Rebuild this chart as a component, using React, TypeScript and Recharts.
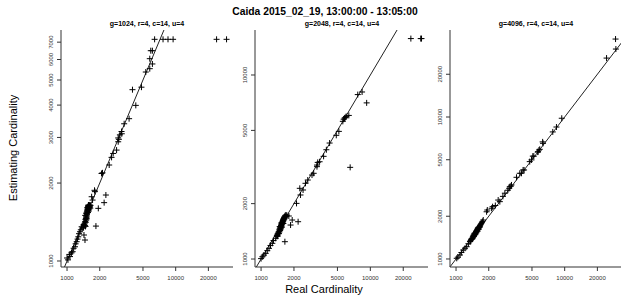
import React from 'react';
import { ScatterChart, Scatter, XAxis, YAxis, ReferenceLine } from 'recharts';

const chartTitle = 'Caida 2015_02_19, 13:00:00 - 13:05:00';
const panelTitles = ['g=1024, r=4, c=14, u=4', 'g=2048, r=4, c=14, u=4', 'g=4096, r=4, c=14, u=4'];
const xLabel = 'Real Cardinality';
const yLabel = 'Estimating Cardinality';

const xTicks = [1000, 2000, 5000, 10000, 20000];
const yTicks1 = [1000, 2000, 3000, 4000, 5000, 6000, 7000];
const yTicks2 = [1000, 2000, 5000, 10000];
const yTicks3 = [1000, 2000, 5000, 10000, 20000];

const xDomain: [number, number] = [880, 33700];
const yDomain1: [number, number] = [948, 7800];
const yDomain2: [number, number] = [905, 17560];
const yDomain3: [number, number] = [878, 41000];

// [real cardinality, estimated cardinality]
const panel1Points: [number, number][] = [
  [1000, 1027], [1020, 1010], [1050, 1060], [1065, 1040], [1100, 1075], [1127, 1086], [1150, 1120],
  [1184, 1135], [1200, 1165], [1227, 1187], [1250, 1215], [1270, 1240], [1290, 1275], [1316, 1297],
  [1340, 1320], [1363, 1356], [1380, 1340], [1412, 1377], [1432, 1260], [1463, 1205],
  [1440, 1385], [1455, 1400], [1462, 1372], [1470, 1420], [1478, 1445], [1485, 1410], [1490, 1460],
  [1495, 1480], [1500, 1438], [1505, 1502], [1510, 1470], [1515, 1525], [1518, 1490], [1522, 1545],
  [1526, 1510], [1530, 1560], [1534, 1532], [1538, 1575], [1542, 1550], [1546, 1590], [1550, 1565],
  [1553, 1605], [1557, 1580], [1560, 1620], [1564, 1598], [1568, 1635], [1572, 1612], [1576, 1645],
  [1580, 1625], [1585, 1640], [1590, 1600], [1595, 1630], [1600, 1585], [1606, 1640], [1612, 1610],
  [1620, 1645], [1628, 1620], [1636, 1600], [1645, 1640], [1470, 1500], [1520, 1455], [1560, 1540],
  [1590, 1560], [1540, 1610], [1500, 1530], [1480, 1360], [1420, 1345],
  [1718, 1719], [1685, 1771], [1806, 1853], [1790, 1875], [1845, 1364], [1940, 1597], [2195, 1680],
  [2278, 1798], [2078, 2178], [2120, 2190], [2444, 2348], [2570, 2513], [2659, 2602], [2858, 2681],
  [2958, 2887],
  [2958, 2987], [3000, 2950], [3065, 3070], [3175, 3163], [3190, 3100], [3356, 3388], [3726, 3545],
  [4003, 4588], [4295, 3990], [4843, 4691], [5307, 5368], [5775, 5530], [6106, 5767], [5775, 6044],
  [5900, 6489], [6106, 6489], [6400, 7180], [7650, 7180], [8500, 7180], [9470, 7180],
  [23800, 7180], [29400, 7180],
];

const panel2Points: [number, number][] = [
  [1000, 1005], [1028, 1029], [1060, 1050], [1103, 1074], [1140, 1110], [1182, 1143], [1220, 1185],
  [1268, 1217], [1300, 1260], [1360, 1296], [1390, 1330], [1420, 1350], [1458, 1379], [1652, 1242],
  [1400, 1340], [1410, 1365], [1420, 1330], [1430, 1380], [1440, 1400], [1450, 1372], [1460, 1415],
  [1468, 1440], [1475, 1405], [1482, 1460], [1490, 1430], [1497, 1480], [1504, 1455], [1510, 1500],
  [1516, 1470], [1522, 1520], [1528, 1490], [1534, 1540], [1540, 1512], [1546, 1560], [1552, 1535],
  [1558, 1580], [1564, 1555], [1570, 1600], [1576, 1572], [1582, 1620], [1588, 1595], [1594, 1640],
  [1600, 1612], [1608, 1660], [1616, 1632], [1624, 1680], [1632, 1650], [1640, 1700], [1650, 1670],
  [1660, 1720], [1672, 1690], [1685, 1735], [1700, 1705], [1720, 1730], [1500, 1440], [1550, 1490],
  [1600, 1560], [1480, 1500], [1530, 1570],
  [1796, 1713], [1862, 1530], [1927, 1629], [2183, 1595], [2111, 2006], [2294, 2228], [2261, 2422],
  [2423, 2372], [2550, 2579], [2675, 2687], [2925, 2860], [3030, 2923], [3248, 3176], [3248, 3240],
  [3433, 3378], [3300, 3350], [6537, 3149],
  [3735, 3614], [3957, 3925], [4240, 4268], [4878, 4701], [5152, 4939], [5600, 5600], [5805, 5830],
  [6013, 5956], [6355, 6030], [5700, 5750], [5900, 5880], [7674, 7826], [8403, 8085], [9253, 7054],
  [23490, 15770], [28900, 15770], [29400, 15770],
];

const panel3Points: [number, number][] = [
  [1015, 1011], [1040, 1030], [1088, 1067], [1120, 1110], [1167, 1157], [1210, 1190], [1254, 1220],
  [1300, 1280], [1344, 1324], [1390, 1380], [1442, 1436],
  [1350, 1330], [1365, 1350], [1380, 1372], [1395, 1385], [1410, 1400], [1425, 1425], [1440, 1430],
  [1455, 1460], [1468, 1470], [1480, 1490], [1492, 1500], [1505, 1520], [1516, 1530], [1528, 1550],
  [1540, 1560], [1552, 1580], [1564, 1590], [1576, 1610], [1588, 1620], [1600, 1640], [1612, 1650],
  [1625, 1670], [1638, 1680], [1650, 1700], [1665, 1715], [1680, 1740], [1695, 1760], [1710, 1780],
  [1730, 1810], [1750, 1840], [1460, 1440], [1500, 1480], [1540, 1530], [1580, 1570], [1620, 1620],
  [1660, 1680], [1445, 1470], [1485, 1520], [1525, 1570], [1565, 1620], [1605, 1670], [1420, 1390],
  [1470, 1500], [1510, 1500], [1590, 1650],
  [1780, 1881], [1940, 2212], [1912, 2150], [2125, 2277], [2170, 2335], [2300, 2380], [2443, 2600],
  [2530, 2534], [2700, 2760], [2815, 2906], [3000, 3050], [3086, 3145], [3126, 3230], [3238, 3322],
  [3200, 3260], [3602, 3761], [3862, 4014], [4000, 4014], [4142, 4235], [4230, 4235], [4770, 4850],
  [4950, 4986], [5090, 5300], [5200, 5300], [5690, 5696], [5650, 5660], [5895, 5920], [5800, 5850],
  [6321, 6525],
  [6270, 6680], [7770, 7850], [8400, 8500], [9400, 9800], [24300, 26000], [29600, 30100], [29400, 35400],
];

const FONT = '"Liberation Sans", Arial, sans-serif';

const PlusShape = (props: any) => {
  const { cx, cy } = props;
  if (cx == null || cy == null) return null;
  const s = 3;
  return (
    <path
      d={`M${cx - s},${cy}H${cx + s}M${cx},${cy - s}V${cy + s}`}
      stroke="#000"
      strokeWidth={1}
      fill="none"
    />
  );
};

const XTick = (props: any) => {
  const { x, y, payload } = props;
  return (
    <text x={x} y={y} dy="0.71em" textAnchor="middle" fontSize={6} fill="#333" fontFamily={FONT}>
      {payload.value}
    </text>
  );
};

const YTick = (props: any) => {
  const { x, y, payload } = props;
  return (
    <text
      x={x}
      y={y}
      transform={`rotate(-90 ${x} ${y})`}
      textAnchor="middle"
      fontSize={6}
      fill="#333"
      fontFamily={FONT}
    >
      {payload.value}
    </text>
  );
};

const boxLefts = [61, 255, 450];
const boxWidths = [172, 173, 172];
const AXIS_W = 50;

type PanelProps = {
  idx: number;
  points: [number, number][];
  yDomain: [number, number];
  yTicks: number[];
};

function Panel({ idx, points, yDomain, yTicks }: PanelProps) {
  const L = boxLefts[idx];
  const W = boxWidths[idx];
  const chartW = W + AXIS_W + 1;
  const data = points.map(([x, y]) => ({ x, y }));
  const lo = Math.max(xDomain[0], yDomain[0]);
  const hi = Math.min(xDomain[1], yDomain[1]);
  return (
    <div style={{ position: 'absolute', left: L - AXIS_W, top: 0 }}>
      <ScatterChart width={chartW} height={300} margin={{ top: 30, right: 1, bottom: 0, left: 0 }}>
        <XAxis
          xAxisId="b"
          dataKey="x"
          type="number"
          scale="log"
          domain={xDomain}
          allowDataOverflow
          ticks={xTicks}
          interval={0}
          height={33}
          tick={<XTick />}
          tickSize={4}
          tickMargin={5}
          stroke="#333"
        />
        <XAxis
          xAxisId="t"
          orientation="top"
          dataKey="x"
          type="number"
          scale="log"
          domain={xDomain}
          allowDataOverflow
          height={0}
          tick={false}
          tickLine={false}
          stroke="#333"
        />
        <YAxis
          yAxisId="l"
          dataKey="y"
          type="number"
          scale="log"
          domain={yDomain}
          allowDataOverflow
          ticks={yTicks}
          interval={0}
          width={AXIS_W}
          tick={<YTick />}
          tickSize={4}
          tickMargin={4}
          stroke="#333"
        />
        <YAxis
          yAxisId="r"
          orientation="right"
          dataKey="y"
          type="number"
          scale="log"
          domain={yDomain}
          allowDataOverflow
          width={0}
          tick={false}
          tickLine={false}
          stroke="#333"
        />
        <ReferenceLine
          xAxisId="b"
          yAxisId="l"
          segment={[{ x: lo, y: lo }, { x: hi, y: hi }]}
          stroke="#222"
          strokeWidth={1}
        />
        <Scatter
          xAxisId="b"
          yAxisId="l"
          data={data}
          shape={PlusShape}
          isAnimationActive={false}
        />
      </ScatterChart>
    </div>
  );
}

const panelCenters = [147, 342, 536];

export default function App() {
  return (
    <div
      style={{
        position: 'absolute',
        left: 0,
        top: 0,
        width: 621,
        height: 300,
        overflow: 'hidden',
        background: '#fff',
      }}
    >
      <svg width={621} height={300} style={{ position: 'absolute', left: 0, top: 0 }}>
        <text x={325} y={15} textAnchor="middle" fontSize={10.3} fontWeight="bold" fontFamily={FONT} fill="#000">
          {chartTitle}
        </text>
        {panelTitles.map((t, i) => (
          <text
            key={t}
            x={panelCenters[i]}
            y={26}
            textAnchor="middle"
            fontSize={7}
            fontWeight="bold"
            fontFamily={FONT}
            fill="#000"
          >
            {t}
          </text>
        ))}
        <text
          x={17}
          y={148}
          transform="rotate(-90 17 148)"
          textAnchor="middle"
          fontSize={11}
          fontFamily={FONT}
          fill="#000"
        >
          {yLabel}
        </text>
        <text x={324} y={293} textAnchor="middle" fontSize={11} fontFamily={FONT} fill="#000">
          {xLabel}
        </text>
      </svg>
      <Panel idx={0} points={panel1Points} yDomain={yDomain1} yTicks={yTicks1} />
      <Panel idx={1} points={panel2Points} yDomain={yDomain2} yTicks={yTicks2} />
      <Panel idx={2} points={panel3Points} yDomain={yDomain3} yTicks={yTicks3} />
    </div>
  );
}
